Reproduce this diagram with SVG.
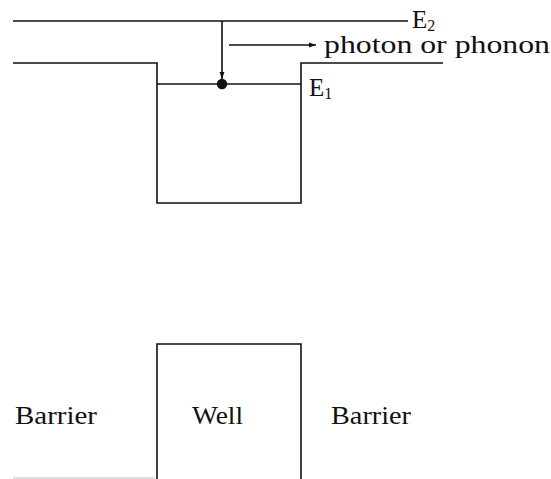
<svg xmlns="http://www.w3.org/2000/svg" width="551" height="479" viewBox="0 0 551 479">
<style>
.ln{fill:none;stroke:#111;stroke-width:1.6}
.t{font-family:"Liberation Serif","DejaVu Serif","Times New Roman",serif;font-size:25px;fill:#111}
.sub{font-size:16px}
</style>
<defs>
<marker id="ah" viewBox="0 0 10 10" refX="10" refY="5" markerWidth="7" markerHeight="7" markerUnits="userSpaceOnUse" orient="auto">
<path d="M0,1.5 L10,5 L0,8.5 Z" fill="#111"/>
</marker>
</defs>
<rect width="551" height="479" fill="#fff"/>
<g id="band-diagram">
<line class="ln" x1="13" y1="21" x2="408" y2="21"/>
<polyline class="ln" points="13,63 157,63 157,203 301,203 301,63 443,63"/>
<line class="ln" x1="157" y1="84" x2="301" y2="84"/>
<circle cx="222" cy="84" r="5.2" fill="#111"/>
<text class="t" x="412" y="28">E<tspan class="sub" dy="2.5">2</tspan></text>
<text class="t" x="309" y="96">E<tspan class="sub" dy="3">1</tspan></text>
<text class="t" x="324" y="53" textLength="226" lengthAdjust="spacingAndGlyphs">photon or phonon</text>
</g>
<g id="connectors">
<line class="ln" x1="222" y1="21" x2="222" y2="79" marker-end="url(#ah)"/>
<line class="ln" x1="229" y1="45" x2="316" y2="45" marker-end="url(#ah)"/>
</g>
<g id="structure">
<polyline class="ln" points="157,479 157,344 301,344 301,479"/>
<line x1="13" y1="478" x2="155" y2="478" stroke="#bbb" stroke-width="1.2"/>
<text class="t" x="15" y="424" textLength="82" lengthAdjust="spacingAndGlyphs">Barrier</text>
<text class="t" x="192" y="424" textLength="51" lengthAdjust="spacingAndGlyphs">Well</text>
<text class="t" x="331" y="424" textLength="80" lengthAdjust="spacingAndGlyphs">Barrier</text>
</g>
</svg>
